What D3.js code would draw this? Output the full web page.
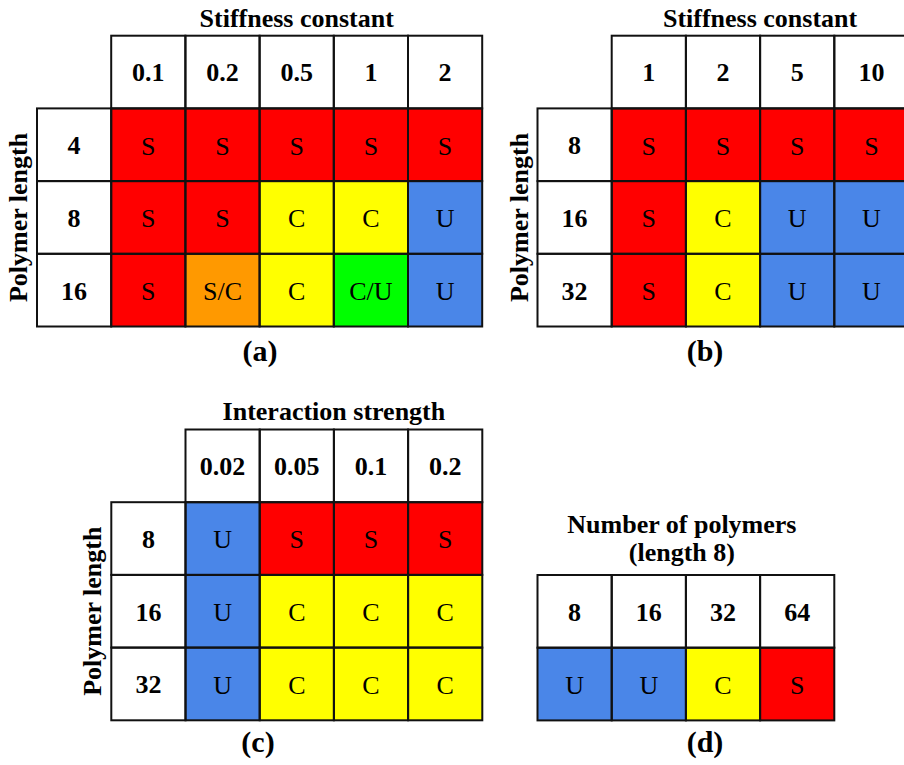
<!DOCTYPE html>
<html>
<head>
<meta charset="utf-8">
<script src="https://cdn.jsdelivr.net/npm/d3@7"></script>
<style>
  body { margin: 0; background: #fff; }
  text { font-family: "Liberation Serif", "Times New Roman", serif; }
</style>
</head>
<body>
<svg id="chart" width="904" height="765"></svg>
<script>
// (a) stiffness constant vs polymer length
const stiffnessA = ["0.1", "0.2", "0.5", "1", "2"];
const lengthsA = ["4", "8", "16"];
const phasesA = [
  ["S", "S", "S", "S", "S"],
  ["S", "S", "C", "C", "U"],
  ["S", "S/C", "C", "C/U", "U"]
];

// (b) larger stiffness constants
const stiffnessB = ["1", "2", "5", "10"];
const lengthsB = ["8", "16", "32"];
const phasesB = [
  ["S", "S", "S", "S"],
  ["S", "C", "U", "U"],
  ["S", "C", "U", "U"]
];

// (c) interaction strength vs polymer length
const interactionC = ["0.02", "0.05", "0.1", "0.2"];
const lengthsC = ["8", "16", "32"];
const phasesC = [
  ["U", "S", "S", "S"],
  ["U", "C", "C", "C"],
  ["U", "C", "C", "C"]
];

// (d) number of polymers, length 8
const polymerCountD = ["8", "16", "32", "64"];
const phasesD = ["U", "U", "C", "S"];

const phaseKeys = ["S", "S/C", "C", "C/U", "U"];
const phaseColors = ["#ff0000", "#ff9900", "#ffff00", "#00ff00", "#4a86e8"];

const color = d3.scaleOrdinal().domain(phaseKeys).range(phaseColors);

const svg = d3.select("#chart");
const CELL_W = 74.2, CELL_H = 72.7;
const FONT = 26;
const LINE = "#111";

function drawTable(cfg) {
  const g = svg.append("g");
  const rows = cfg.rows || [];
  const x = d3.scaleBand()
    .domain(cfg.cols)
    .range([cfg.gridLeft, cfg.gridLeft + cfg.cols.length * CELL_W]);
  const y = d3.scaleBand()
    .domain(["__head", ...(rows.length ? rows : ["__row"])])
    .range([cfg.top, cfg.top + (Math.max(rows.length, 1) + 1) * CELL_H]);

  // column header cells
  const head = g.selectAll("g.head").data(cfg.cols).join("g").attr("class", "head");
  head.append("rect")
    .attr("x", d => x(d)).attr("y", y("__head"))
    .attr("width", x.bandwidth()).attr("height", y.bandwidth())
    .attr("fill", "#fff");
  head.append("text")
    .attr("x", d => x(d) + x.bandwidth() / 2)
    .attr("y", y("__head") + y.bandwidth() / 2)
    .attr("dy", "0.36em")
    .attr("text-anchor", "middle")
    .attr("font-size", FONT).attr("font-weight", "bold")
    .text(d => d);

  // row label cells
  if (rows.length) {
    const rl = g.selectAll("g.rowlab").data(rows).join("g").attr("class", "rowlab");
    rl.append("rect")
      .attr("x", cfg.gridLeft - CELL_W).attr("y", d => y(d))
      .attr("width", CELL_W).attr("height", y.bandwidth())
      .attr("fill", "#fff");
    rl.append("text")
      .attr("x", cfg.gridLeft - CELL_W / 2)
      .attr("y", d => y(d) + y.bandwidth() / 2)
      .attr("dy", "0.36em")
      .attr("text-anchor", "middle")
      .attr("font-size", FONT).attr("font-weight", "bold")
      .text(d => d);
  }

  // phase cells
  const cells = [];
  if (rows.length) {
    rows.forEach((r, i) => cfg.cols.forEach((c, j) => cells.push({ r, c, v: cfg.values[i][j] })));
  } else {
    cfg.cols.forEach((c, j) => cells.push({ r: "__row", c, v: cfg.values[j] }));
  }
  const cg = g.selectAll("g.cell").data(cells).join("g").attr("class", "cell");
  cg.append("rect")
    .attr("x", d => x(d.c)).attr("y", d => y(d.r))
    .attr("width", x.bandwidth()).attr("height", y.bandwidth())
    .attr("fill", d => color(d.v));
  cg.append("text")
    .attr("x", d => x(d.c) + x.bandwidth() / 2)
    .attr("y", d => y(d.r) + y.bandwidth() / 2)
    .attr("dy", "0.38em")
    .attr("text-anchor", "middle")
    .attr("font-size", FONT)
    .attr("fill", "#000")
    .text(d => d.v);

  // grid lines drawn on top of fills
  const lines = g.append("g").attr("fill", "none").attr("stroke", LINE).attr("stroke-width", 2);
  cfg.cols.forEach(c => lines.append("rect")
    .attr("x", x(c)).attr("y", y("__head"))
    .attr("width", x.bandwidth()).attr("height", y.bandwidth()));
  const bodyRows = rows.length ? rows : ["__row"];
  bodyRows.forEach(r => {
    if (rows.length) lines.append("rect")
      .attr("x", cfg.gridLeft - CELL_W).attr("y", y(r))
      .attr("width", CELL_W).attr("height", y.bandwidth());
    cfg.cols.forEach(c => lines.append("rect")
      .attr("x", x(c)).attr("y", y(r))
      .attr("width", x.bandwidth()).attr("height", y.bandwidth()));
  });

  // column title (one or more lines)
  const titleX = cfg.gridLeft + cfg.cols.length * CELL_W / 2 + (cfg.titleDx || 0);
  cfg.title.forEach((t, i) => {
    g.append("text")
      .attr("x", titleX)
      .attr("y", cfg.titleY + i * 28)
      .attr("text-anchor", "middle")
      .attr("font-size", FONT).attr("font-weight", "bold")
      .text(t);
  });

  // row title, rotated
  if (rows.length) {
    const cy = y(rows[0]) + rows.length * CELL_H / 2;
    const bx = cfg.gridLeft - CELL_W - 10;
    g.append("text")
      .attr("transform", `translate(${bx},${cy}) rotate(-90)`)
      .attr("text-anchor", "middle")
      .attr("font-size", FONT).attr("font-weight", "bold")
      .text("Polymer length");
  }

  // panel letter
  g.append("text")
    .attr("x", cfg.labelX).attr("y", cfg.labelY)
    .attr("text-anchor", "middle")
    .attr("font-size", 30).attr("font-weight", "bold")
    .text(cfg.label);
}

drawTable({ cols: stiffnessA, rows: lengthsA, values: phasesA, gridLeft: 111.2, top: 35.7,
  title: ["Stiffness constant"], titleY: 26.5, label: "(a)", labelX: 260, labelY: 361 });
drawTable({ cols: stiffnessB, rows: lengthsB, values: phasesB, gridLeft: 611.7, top: 35.7,
  title: ["Stiffness constant"], titleY: 26.5, label: "(b)", labelX: 705, labelY: 361 });
drawTable({ cols: interactionC, rows: lengthsC, values: phasesC, gridLeft: 185.5, top: 429.5,
  title: ["Interaction strength"], titleY: 420, label: "(c)", labelX: 258, labelY: 752 });
drawTable({ cols: polymerCountD, values: phasesD, gridLeft: 537.5, top: 575,
  title: ["Number of polymers", "(length 8)"], titleY: 533, titleDx: -4, label: "(d)", labelX: 705, labelY: 752 });
</script>
</body>
</html>
